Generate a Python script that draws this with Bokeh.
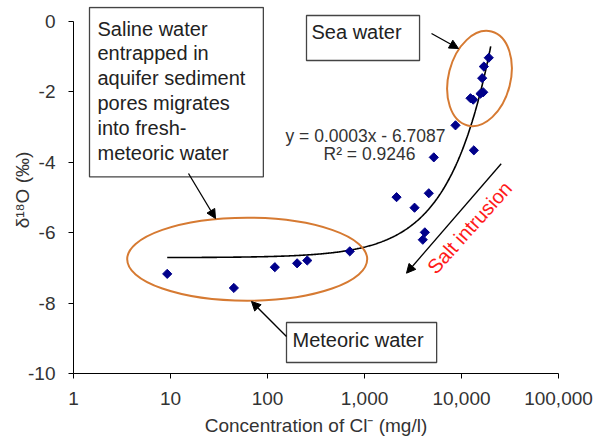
import numpy as np
from bokeh.plotting import figure
from bokeh.models import (Label, Arrow, NormalHead, FixedTicker, ColumnDataSource)
from bokeh.embed import file_html
from bokeh.resources import INLINE

# ---- data ----
cl_mg_l = [9.25, 45, 119, 202, 257, 705, 2140, 3280, 4600, 4190, 3990, 5180,
           13400, 8670, 12380, 13200, 15700, 16750, 16340, 16990, 19100]
d18o = [-7.17, -7.57, -6.98, -6.87, -6.79, -6.53, -4.99, -5.29, -4.88, -5.99,
        -6.20, -3.86, -3.66, -2.95, -2.18, -2.22, -2.05, -2.01, -1.61, -1.28, -1.03]
trend_slope = 0.0003
trend_intercept = -6.7087
trend_x_range = [9.25, 20000]
x_ticks = [1, 10, 100, 1000, 10000, 100000]
x_tick_labels = ["1", "10", "100", "1,000", "10,000", "100,000"]
y_ticks = [-10, -8, -6, -4, -2, 0]
y_tick_labels = ["-10", "-8", "-6", "-4", "-2", "0"]

FONT = "Liberation Sans"
ORANGE = "#D67A32"

# helper: image pixel -> data coords (for annotation placement only)
def dx(px):
    return 10 ** ((px - 73) / 97.0)

def dy(py):
    return -(py - 21) / 35.2

p = figure(x_axis_type="log", x_range=(1, 100000), y_range=(-10, dy(6)),
           frame_width=485, frame_height=367,
           min_border_left=73, min_border_right=36, min_border_top=6, min_border_bottom=69,
           output_backend="svg", toolbar_location=None)
p.outline_line_color = None
p.xgrid.visible = False
p.ygrid.visible = False

# trendline
tx = np.logspace(np.log10(trend_x_range[0]), np.log10(trend_x_range[1]), 400)
ty = trend_slope * tx + trend_intercept
p.line(tx, ty, line_color="black", line_width=1.6)

# data points
src = ColumnDataSource(dict(x=cl_mg_l, y=d18o))
p.scatter("x", "y", source=src, marker="square", angle=np.pi / 4, size=6.5,
          fill_color="#00008B", line_color="#00008B")

# ellipses
p.ellipse(x=[dx(479)], y=[dy(78)], width=62, height=97, width_units="screen",
          height_units="screen", angle=-0.25, fill_color=None,
          line_color=ORANGE, line_width=2)
p.ellipse(x=[dx(246.7)], y=[dy(258.7)], width=240, height=83, width_units="screen",
          height_units="screen", angle=0, fill_color=None,
          line_color=ORANGE, line_width=2)

# axes
for ax in (p.xaxis[0], p.yaxis[0]):
    ax.axis_line_color = "black"
    ax.major_tick_line_color = "black"
    ax.major_tick_in = 0
    ax.major_tick_out = 5
    ax.minor_tick_line_color = None
    ax.major_label_text_font = FONT
    ax.major_label_text_font_size = "19px"
    ax.major_label_text_color = "#333333"
    ax.axis_label_text_font = FONT
    ax.axis_label_text_font_size = "19px"
    ax.axis_label_text_font_style = "normal"
    ax.axis_label_text_color = "#333333"

p.xaxis.ticker = FixedTicker(ticks=x_ticks)
p.xaxis.major_label_overrides = {t: l for t, l in zip(x_ticks, x_tick_labels)}
p.xaxis.axis_label = "Concentration of Cl\u207b (mg/l)"
p.xaxis.major_label_standoff = 13
p.xaxis.axis_label_standoff = 7
p.yaxis.ticker = FixedTicker(ticks=y_ticks)
p.yaxis.bounds = (-10, 0)
p.yaxis.major_label_overrides = {t: l for t, l in zip(y_ticks, y_tick_labels)}
p.yaxis.axis_label = "\u03b4\u00b9\u2078O (\u2030)"
p.yaxis.major_label_standoff = 13
p.yaxis.axis_label_standoff = -8

# equation text
p.add_layout(Label(x=dx(365), y=dy(135), text="y = 0.0003x - 6.7087",
                   text_align="center", text_baseline="middle",
                   text_font=FONT, text_font_size="17.5px", text_color="#333333"))
p.add_layout(Label(x=dx(369), y=dy(153), text="R\u00b2 = 0.9246",
                   text_align="center", text_baseline="middle",
                   text_font=FONT, text_font_size="17.5px", text_color="#333333"))

# boxes with text
def box_label(x, y, text, padding, lh=1.1):
    return Label(x=x, y=y, text=text, anchor="top_left", padding=padding,
                 text_font=FONT, text_font_size="20px", text_color="#222222",
                 text_line_height=lh,
                 border_line_color="#444444", border_line_width=1.3,
                 background_fill_color="white", background_fill_alpha=1.0)

p.add_layout(box_label(dx(89), dy(7),
                       "Saline water\nentrapped in\naquifer sediment\npores migrates\ninto fresh-\nmeteoric water",
                       (8, 18, 10, 13), lh=1.13))
p.add_layout(box_label(dx(306), dy(15), "Sea water", (5, 18, 5, 18)))
p.add_layout(box_label(dx(286), dy(322), "Meteoric water", (6, 13, 6, 12)))

# arrows
def arrow(x0, y0, x1, y1):
    return Arrow(end=NormalHead(size=9, fill_color="black", line_color="black"),
                 x_start=dx(x0), y_start=dy(y0), x_end=dx(x1), y_end=dy(y1),
                 line_color="black", line_width=1.3)

p.add_layout(arrow(188, 173, 215, 218))
p.add_layout(arrow(431, 33, 458, 48))
p.add_layout(arrow(286, 336, 251, 301))
p.add_layout(arrow(500.7, 163.3, 406, 272.7))

# salt intrusion text
p.add_layout(Label(x=dx(469), y=dy(227), text="Salt intrusion", angle=0.84,
                   text_align="center", text_baseline="middle",
                   text_font=FONT, text_font_size="20px", text_color="#FF1A1A"))

open("out.html", "w").write(file_html(p, INLINE))
